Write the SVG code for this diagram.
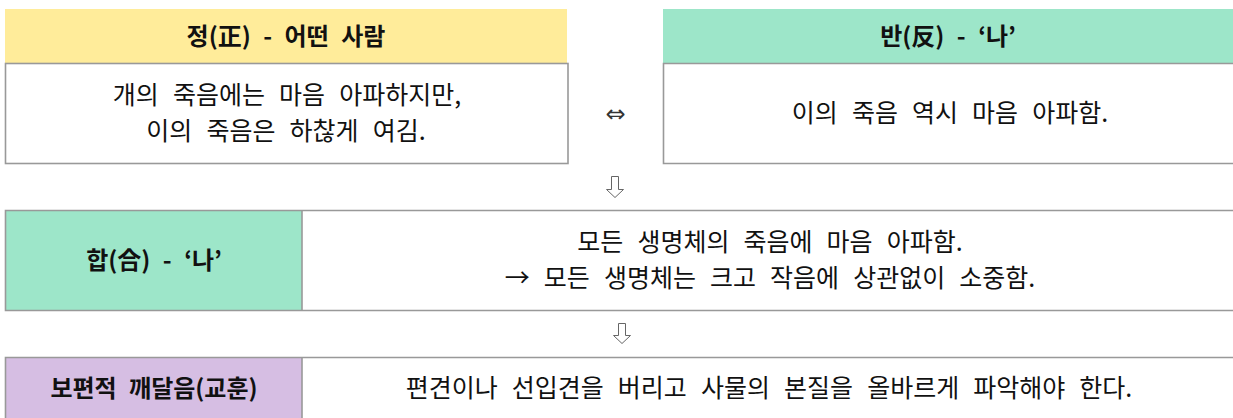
<svg xmlns="http://www.w3.org/2000/svg" width="1233" height="418" viewBox="0 0 1233 418">
<style>
.t{font-family:"Noto Sans CJK KR","Noto Sans",sans-serif;font-size:25px;fill:#111;text-anchor:middle;word-spacing:8.5px}
.b{font-weight:bold;font-size:24px;word-spacing:7px}
.ln{stroke:#999;stroke-width:1.6;fill:none}
.arr{fill:#fff;stroke:#666;stroke-width:1;stroke-linejoin:miter}
.sym{font-family:"DejaVu Sans",sans-serif;fill:#333;text-anchor:middle}
</style>
<rect width="1233" height="418" fill="#fff"/>
<g id="thesis">
<rect x="5" y="9" width="562" height="54" fill="#FFEC9A"/>
<rect x="5.5" y="63.5" width="562.5" height="100" fill="#fff" class="ln"/>
<text class="t b" x="286" y="45">정(正) - 어떤 사람</text>
<text class="t" x="287" y="104">개의 죽음에는 마음 아파하지만,</text>
<text class="t" x="286" y="140">이의 죽음은 하찮게 여김.</text>
</g>
<g id="antithesis">
<rect x="663" y="9" width="570" height="54" fill="#9DE6C9"/>
<path class="ln" d="M1234 63.5H663.5V163.5H1234"/>
<text class="t b" x="948" y="45">반(反) - ‘나’</text>
<text class="t" x="950" y="122">이의 죽음 역시 마음 아파함.</text>
</g>
<g id="synthesis">
<rect x="5" y="210" width="297" height="100" fill="#9DE6C9"/>
<path class="ln" d="M1234 210.5H5.5V310.5H1234M302 210.5V310.5"/>
<text class="t b" x="154" y="269">합(合) - ‘나’</text>
<text class="t" x="770" y="251">모든 생명체의 죽음에 마음 아파함.</text>
<text class="t" x="770" y="287">→ 모든 생명체는 크고 작음에 상관없이 소중함.</text>
</g>
<g id="lesson">
<rect x="5" y="357" width="297" height="62" fill="#D6BEE3"/>
<path class="ln" d="M1234 357.5H5.5V419M302 357.5V419"/>
<text class="t b" x="154" y="397">보편적 깨달음(교훈)</text>
<text class="t" x="769" y="397">편견이나 선입견을 버리고 사물의 본질을 올바르게 파악해야 한다.</text>
</g>
<g id="connectors">
<text class="sym" x="615.5" y="122" font-size="24">⇔</text>
<path class="arr" d="M611.5 176.5H618.5V189.5H623.5L615 197.5L606.5 189.5H611.5Z"/>
<path class="arr" d="M618.5 323.5H625.5V335.5H630.5L622 343.5L613.5 335.5H618.5Z"/>
</g>
</svg>
